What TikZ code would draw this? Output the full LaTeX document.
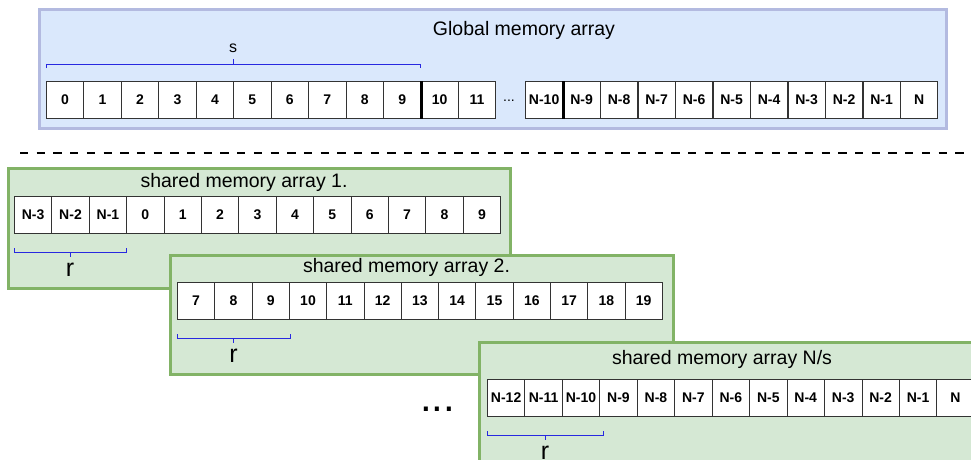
\documentclass[tikz,border=0pt]{standalone}
\usepackage{fontspec}
\setmainfont{Liberation Sans}
\definecolor{globfill}{HTML}{DAE8FC}
\definecolor{globline}{HTML}{B3BAE0}
\definecolor{shfill}{HTML}{D5E8D4}
\definecolor{shline}{HTML}{82B366}
\definecolor{bracecol}{HTML}{2828E0}
\tikzset{
  cell/.style={draw=black!80, fill=white, line width=0.8pt,
    minimum width=37.45pt, minimum height=37pt, inner sep=0pt,
    anchor=north west, font=\fontsize{14}{14}\selectfont\bfseries},
  panel/.style={line width=3pt},
  title/.style={inner sep=0pt, font=\fontsize{19.5}{20}\selectfont},
  lbl/.style={inner sep=0pt, font=\fontsize{25}{25}\selectfont},
  brace/.style={draw=bracecol, line width=0.9pt},
  sep/.style={line width=3pt, black},
}
\begin{document}
\begin{tikzpicture}[x=1pt, y=-1pt]
\useasboundingbox (0,0) rectangle (971,460);
\clip (0,0) rectangle (971,460);

% global memory panel
\path[panel, draw=globline, fill=globfill] (39.5,9.5) rectangle (946.5,128.5);
\node[title] (gtitle) at (524,30) {Global memory array};
\foreach \t [count=\i from 0] in {0,1,2,3,4,5,6,7,8,9,10,11}
  \node[cell] (g\i) at ({46+37.45*\i},81) {\t};
\foreach \t [count=\i from 0] in {N-10,N-9,N-8,N-7,N-6,N-5,N-4,N-3,N-2,N-1,N}
  \node[cell] (gr\i) at ({525+37.5*\i},81) {\t};
\node[inner sep=0pt, font=\fontsize{14}{14}\selectfont] (gdots) at (509,101) {...};
\draw[sep] (g9.north east) -- (g9.south east);
\draw[sep] (gr0.north east) -- (gr0.south east);
% span s
\draw[brace] (46,68) -- (46,64) -- (420,64) -- (420,68);
\draw[brace] (233,64) -- (233,59);
\node[inner sep=0pt, font=\fontsize{16}{16}\selectfont] (slbl) at (233,48) {s};

% separator between global and shared memory
\draw[line width=2.5pt, dash pattern=on 8.3pt off 8.4pt] (20,153) -- (966,153);

% shared memory array 1
\path[panel, draw=shline, fill=shfill] (8.5,168.5) rectangle (510.5,288.5);
\node[title] (t1) at (244,182) {shared memory array 1.};
\foreach \t [count=\i from 0] in {N-3,N-2,N-1,0,1,2,3,4,5,6,7,8,9}
  \node[cell] (a\i) at ({14+37.4*\i},196) {\t};
\draw[brace] (14,248) -- (14,252) -- (126,252) -- (126,248);
\draw[brace] (70,252) -- (70,257);
\node[lbl] (r1) at (70,270) {r};

% shared memory array 2
\path[panel, draw=shline, fill=shfill] (170.5,255.5) rectangle (673.5,374.5);
\node[title] (t2) at (406.5,267) {shared memory array 2.};
\foreach \t [count=\i from 0] in {7,8,9,10,11,12,13,14,15,16,17,18,19}
  \node[cell] (b\i) at ({177+37.3*\i},282) {\t};
\draw[brace] (177,334) -- (177,338) -- (290,338) -- (290,334);
\draw[brace] (233.5,338) -- (233.5,343);
\node[lbl] (r2) at (233.5,356) {r};

% further arrays
\node[inner sep=0pt, font=\fontsize{42}{42}\selectfont] (dots) at (437.5,409) {...};

% shared memory array N/s
\path[panel, draw=shline, fill=shfill] (479.5,342.5) rectangle (990,480);
\node[title] (t3) at (722,359) {shared memory array N/s};
\foreach \t [count=\i from 0] in {N-12,N-11,N-10,N-9,N-8,N-7,N-6,N-5,N-4,N-3,N-2,N-1,N}
  \node[cell] (c\i) at ({487+37.45*\i},379) {\t};
\draw[brace] (487,431) -- (487,435) -- (603,435) -- (603,431);
\draw[brace] (545,435) -- (545,440);
\node[lbl] (r3) at (545,453) {r};
\end{tikzpicture}
\end{document}
